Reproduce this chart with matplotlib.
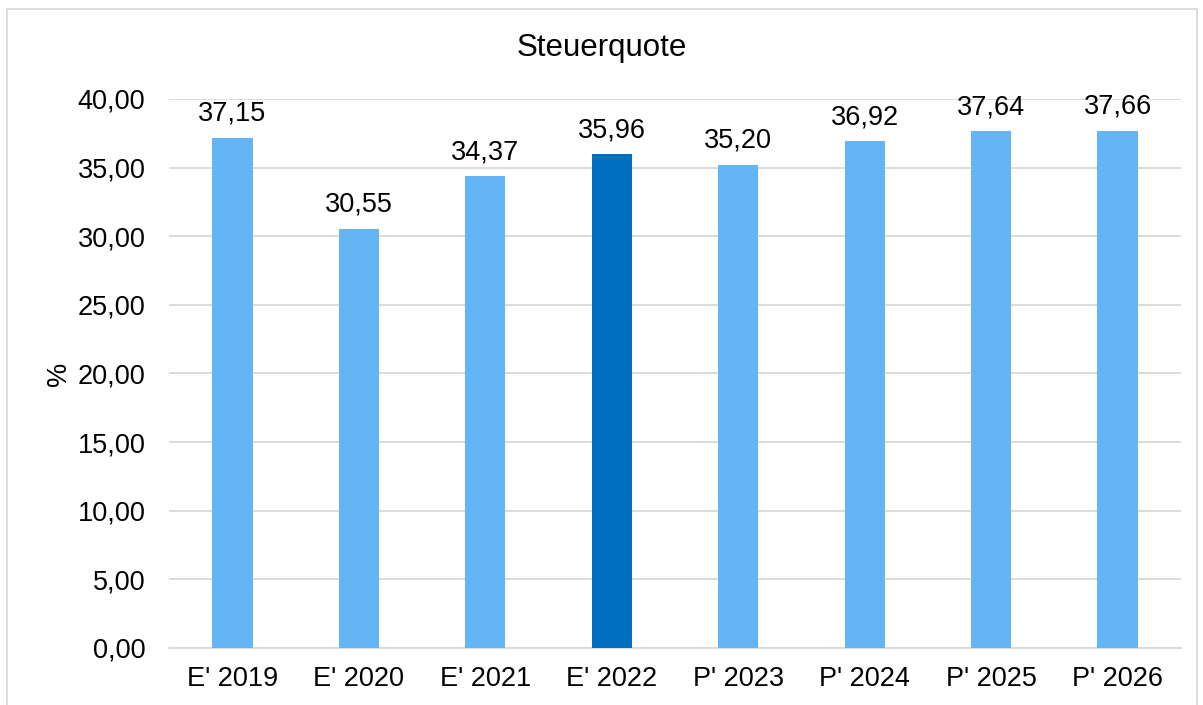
import matplotlib.pyplot as plt
from matplotlib.patches import Rectangle

plt.rcParams['font.family'] = ['Liberation Sans', 'DejaVu Sans']

# Steuerquote in % (E = Ergebnis, P = Plan)
years = ["E' 2019", "E' 2020", "E' 2021", "E' 2022", "P' 2023", "P' 2024", "P' 2025", "P' 2026"]
values = [37.15, 30.55, 34.37, 35.96, 35.20, 36.92, 37.64, 37.66]
highlight = "E' 2022"

lightBlue = '#63b5f6'
darkBlue = '#0070c0'
gridGray = '#d9d9d9'
fs = 19.5

fig = plt.figure(figsize=(12.03, 7.05), dpi=100)
ax = fig.add_axes([0.1405, 0.0809, 0.8412, 0.7787])

colors = [darkBlue if y == highlight else lightBlue for y in years]
xs = range(len(years))
bars = ax.bar(xs, values, width=0.32, color=colors, zorder=3)

for b, v in zip(bars, values):
    ax.annotate(f"{v:.2f}".replace('.', ','), (b.get_x() + b.get_width() / 2, v),
                xytext=(0, 8), textcoords='offset points', ha='center', va='bottom', fontsize=fs)

ax.set_ylim(0, 40)
ax.set_xlim(-0.5, len(years) - 0.5)
ax.set_yticks(range(0, 41, 5))
ax.set_yticklabels([f"{t:.2f}".replace('.', ',') for t in range(0, 41, 5)], fontsize=fs)
ax.set_xticks(list(xs))
ax.set_xticklabels(years, fontsize=fs)
ax.tick_params(axis='y', length=0, pad=17)
ax.tick_params(axis='x', length=0, pad=13)
ax.yaxis.grid(True, color=gridGray, linewidth=1.3, zorder=0)
for s in ['top', 'right', 'left']:
    ax.spines[s].set_visible(False)
ax.spines['bottom'].set_color(gridGray)
ax.spines['bottom'].set_linewidth(1.3)
ax.set_ylabel('%', fontsize=fs)
ax.yaxis.set_label_coords(-0.096, 0.5)

fig.text(0.5, 0.932, 'Steuerquote', ha='center', va='center', fontsize=22.5)

# Chart frame
fig.patches.append(Rectangle((7 / 1203, -0.05), 1190 / 1203, 1.05 - 9 / 705,
                             transform=fig.transFigure, fill=False,
                             edgecolor=gridGray, linewidth=1.3))

fig.savefig('out.png', dpi=100)
